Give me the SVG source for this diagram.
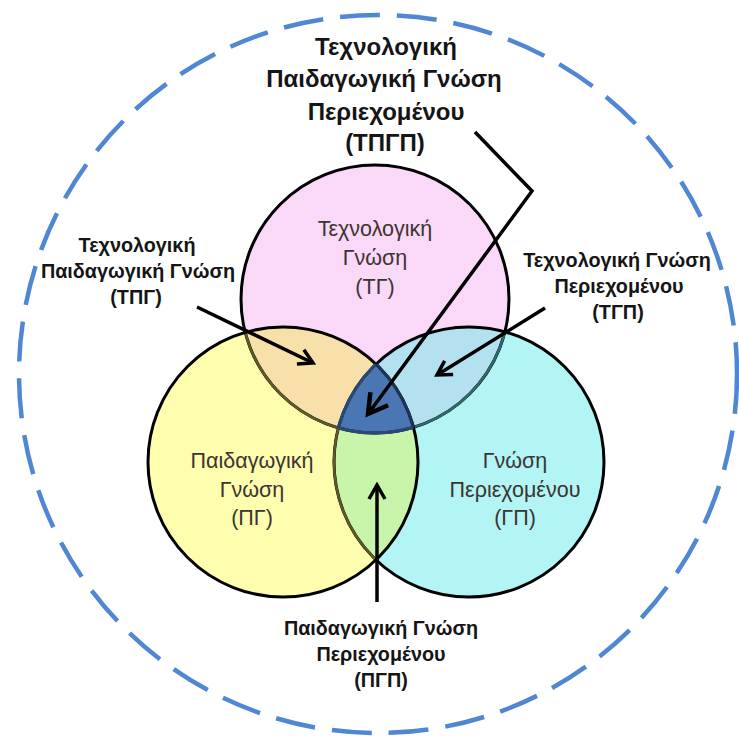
<svg xmlns="http://www.w3.org/2000/svg" width="739" height="736" viewBox="0 0 739 736">
<style>
.lbl{font-family:"Liberation Sans",Arial,sans-serif;font-weight:bold;fill:#151515;text-anchor:middle}
.t1{font-size:24px}
.t2{font-size:19.8px}
.cl{font-family:"Liberation Sans",Arial,sans-serif;font-size:21.5px;fill:#3c3431;text-anchor:middle}
.arr{stroke:#000;stroke-width:3.5;fill:none}
.edge{fill:none;stroke:#000;stroke-width:3}
</style>
<defs>
<clipPath id="cPink"><circle cx="375" cy="299" r="134"/></clipPath>
<clipPath id="cYel"><circle cx="283" cy="462" r="135"/></clipPath>
<clipPath id="cCyan"><circle cx="469" cy="462" r="135"/></clipPath>
<marker id="ah" markerUnits="userSpaceOnUse" viewBox="0 0 20 20" refX="17" refY="10" markerWidth="20" markerHeight="20" orient="auto">
<path d="M3,2 L17,10 L3,18" fill="none" stroke="#000" stroke-width="3.5" stroke-linejoin="miter"/>
</marker>
<marker id="ahL" markerUnits="userSpaceOnUse" viewBox="0 0 26 26" refX="22" refY="13" markerWidth="26" markerHeight="26" orient="auto">
<path d="M3,2 L22,13 L3,24" fill="none" stroke="#000" stroke-width="4.5" stroke-linejoin="miter"/>
</marker>
</defs>

<g id="outer">
<circle cx="378" cy="374" r="359" fill="none" stroke="#4F87D3" stroke-width="4.5" stroke-dasharray="40 17"/>
</g>

<g id="venn">
<circle id="tg" cx="375" cy="299" r="134" fill="#F9D8F8"/>
<circle id="gp" cx="469" cy="462" r="135" fill="#B2F5F4"/>
<circle id="pg" cx="283" cy="462" r="135" fill="#FFFDAE"/>
<g id="tpg" clip-path="url(#cYel)"><circle cx="375" cy="299" r="134" fill="#F8E0AB"/></g>
<g id="tgp" clip-path="url(#cCyan)"><circle cx="375" cy="299" r="134" fill="#B3E1F0"/></g>
<g id="pgp" clip-path="url(#cCyan)"><circle cx="283" cy="462" r="135" fill="#C9F5AA"/></g>
<g id="tpgp" clip-path="url(#cCyan)"><g clip-path="url(#cYel)"><circle cx="375" cy="299" r="134" fill="#4A77B4"/></g></g>

<circle class="edge" cx="375" cy="299" r="134"/>
<g clip-path="url(#cCyan)"><circle cx="375" cy="299" r="134" fill="none" stroke="#2F6A6C" stroke-width="2.5"/></g>
<g clip-path="url(#cYel)"><circle cx="375" cy="299" r="134" fill="none" stroke="#5E5B2A" stroke-width="2.5"/></g>
<circle class="edge" cx="469" cy="462" r="135"/>
<g clip-path="url(#cYel)"><circle cx="469" cy="462" r="135" fill="none" stroke="#5E5B2A" stroke-width="2.5"/></g>
<circle class="edge" cx="283" cy="462" r="135"/>
<g clip-path="url(#cCyan)"><g clip-path="url(#cYel)"><circle cx="375" cy="299" r="134" fill="none" stroke="#27497A" stroke-width="3"/></g></g>
<g clip-path="url(#cPink)"><g clip-path="url(#cYel)"><circle cx="469" cy="462" r="135" fill="none" stroke="#27497A" stroke-width="3"/></g></g>
<g clip-path="url(#cPink)"><g clip-path="url(#cCyan)"><circle cx="283" cy="462" r="135" fill="none" stroke="#1E3355" stroke-width="3"/></g></g>
</g>

<g id="label-tg">
<text class="cl" x="375" y="236">Τεχνολογική</text>
<text class="cl" x="375" y="265">Γνώση</text>
<text class="cl" x="375" y="294">(ΤΓ)</text>
</g>
<g id="label-pg">
<text class="cl" x="252" y="468">Παιδαγωγική</text>
<text class="cl" x="252" y="497">Γνώση</text>
<text class="cl" x="252" y="525">(ΠΓ)</text>
</g>
<g id="label-gp">
<text class="cl" x="515" y="468">Γνώση</text>
<text class="cl" x="515" y="497">Περιεχομένου</text>
<text class="cl" x="515" y="525">(ΓΠ)</text>
</g>

<g id="label-tpgp">
<text class="lbl t1" x="386" y="55">Τεχνολογική</text>
<text class="lbl t1" x="384" y="87">Παιδαγωγική Γνώση</text>
<text class="lbl t1" x="386" y="120">Περιεχομένου</text>
<text class="lbl t1" x="385" y="151">(ΤΠΓΠ)</text>
</g>
<g id="label-tpg">
<text class="lbl t2" x="137" y="252">Τεχνολογική</text>
<text class="lbl t2" x="138" y="278">Παιδαγωγική Γνώση</text>
<text class="lbl t2" x="136" y="304">(ΤΠΓ)</text>
</g>
<g id="label-tgp">
<text class="lbl t2" x="617" y="267">Τεχνολογική Γνώση</text>
<text class="lbl t2" x="619" y="293">Περιεχομένου</text>
<text class="lbl t2" x="618" y="319">(ΤΓΠ)</text>
</g>
<g id="label-pgp">
<text class="lbl t2" x="381" y="635">Παιδαγωγική Γνώση</text>
<text class="lbl t2" x="381" y="661">Περιεχομένου</text>
<text class="lbl t2" x="381" y="687">(ΠΓΠ)</text>
</g>

<g id="connectors">
<polyline class="arr" stroke-width="4.5" points="475,132 532,191 368,414" marker-end="url(#ahL)"/>
<line class="arr" x1="197" y1="307" x2="313" y2="363" marker-end="url(#ah)"/>
<line class="arr" x1="545" y1="308" x2="437" y2="375" marker-end="url(#ah)"/>
<line class="arr" x1="377" y1="602" x2="377" y2="485" marker-end="url(#ah)"/>
</g>
</svg>
